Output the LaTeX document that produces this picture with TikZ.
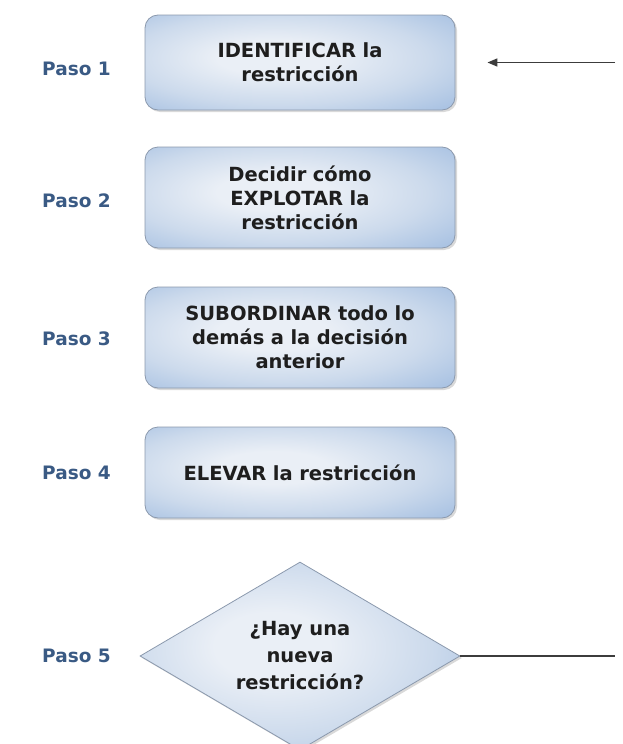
\documentclass[tikz,border=0pt]{standalone}
\usepackage{fontspec}
\setmainfont{DejaVu Sans}
\usetikzlibrary{shapes.geometric,arrows.meta,shadows}
\definecolor{pasoblue}{HTML}{3A5A84}
\definecolor{boxedge}{HTML}{8B99AD}
\definecolor{shadecore}{HTML}{EAEFF6}
\definecolor{shademid}{HTML}{CCDAEC}
\definecolor{shadeout}{HTML}{A0BCE0}
\definecolor{shaderim}{HTML}{94B3DB}
\definecolor{linegray}{HTML}{3C3C3C}
\definecolor{labeltext}{HTML}{1E1E1E}
% pale centre that turns blue towards the rim
\pgfdeclareradialshading{paleblue}{\pgfpoint{-5bp}{3bp}}{%
  color(0bp)=(shadecore); color(9bp)=(shadecore); color(24bp)=(shademid);
  color(40bp)=(shadeout); color(75bp)=(shaderim)}
\tikzset{
  stepbox/.style={draw=boxedge, line width=0.8pt, rounded corners=13pt,
    shading=paleblue,
    minimum width=310pt, minimum height=#1, inner sep=0pt,
    text width=300pt, align=center, text=labeltext,
    font=\bfseries\fontsize{19.5}{24}\selectfont,
    drop shadow={shadow xshift=2pt, shadow yshift=-2pt, opacity=0.3, fill=gray}},
  decision/.style={diamond, draw=boxedge, line width=0.8pt,
    shading=paleblue,
    minimum width=320pt, minimum height=188pt, inner sep=0pt, aspect=1.7,
    align=center, text=labeltext,
    font=\bfseries\fontsize{19.5}{27}\selectfont,
    drop shadow={shadow xshift=2pt, shadow yshift=-2pt, opacity=0.3, fill=gray}},
  paso/.style={anchor=west, text=pasoblue, font=\bfseries\fontsize{18.5}{20}\selectfont, inner sep=0pt},
  flow/.style={draw=linegray, line width=1.5pt}
}
\begin{document}
\begin{tikzpicture}[x=1pt,y=-1pt]
  \useasboundingbox (0,0) rectangle (622,744);

  \node[stepbox=95pt]  (s1) at (300,62.5) {IDENTIFICAR la\\restricción};
  \node[stepbox=101pt] (s2) at (300,197.5) {Decidir cómo\\EXPLOTAR la\\restricción};
  \node[stepbox=101pt] (s3) at (300,337.5) {SUBORDINAR todo lo\\demás a la decisión\\anterior};
  \node[stepbox=91pt]  (s4) at (300,472.5) {ELEVAR la restricción};
  \node[decision]      (d5) at (300,656) {¿Hay una\\nueva\\restricción?};

  \node[paso] (p1) at (42,69)  {Paso 1};
  \node[paso] (p2) at (42,201) {Paso 2};
  \node[paso] (p3) at (42,339) {Paso 3};
  \node[paso] (p4) at (42,473) {Paso 4};
  \node[paso] (p5) at (42,656) {Paso 5};

  \coordinate (backin) at (615,62.5);
  \coordinate (backout) at (615,656);

  \draw[flow, -{Triangle[length=10pt,width=8pt]}, shorten >=32pt] (backin) -- (s1.east);
  \draw[flow] (d5.east) -- (backout);
\end{tikzpicture}
\end{document}
